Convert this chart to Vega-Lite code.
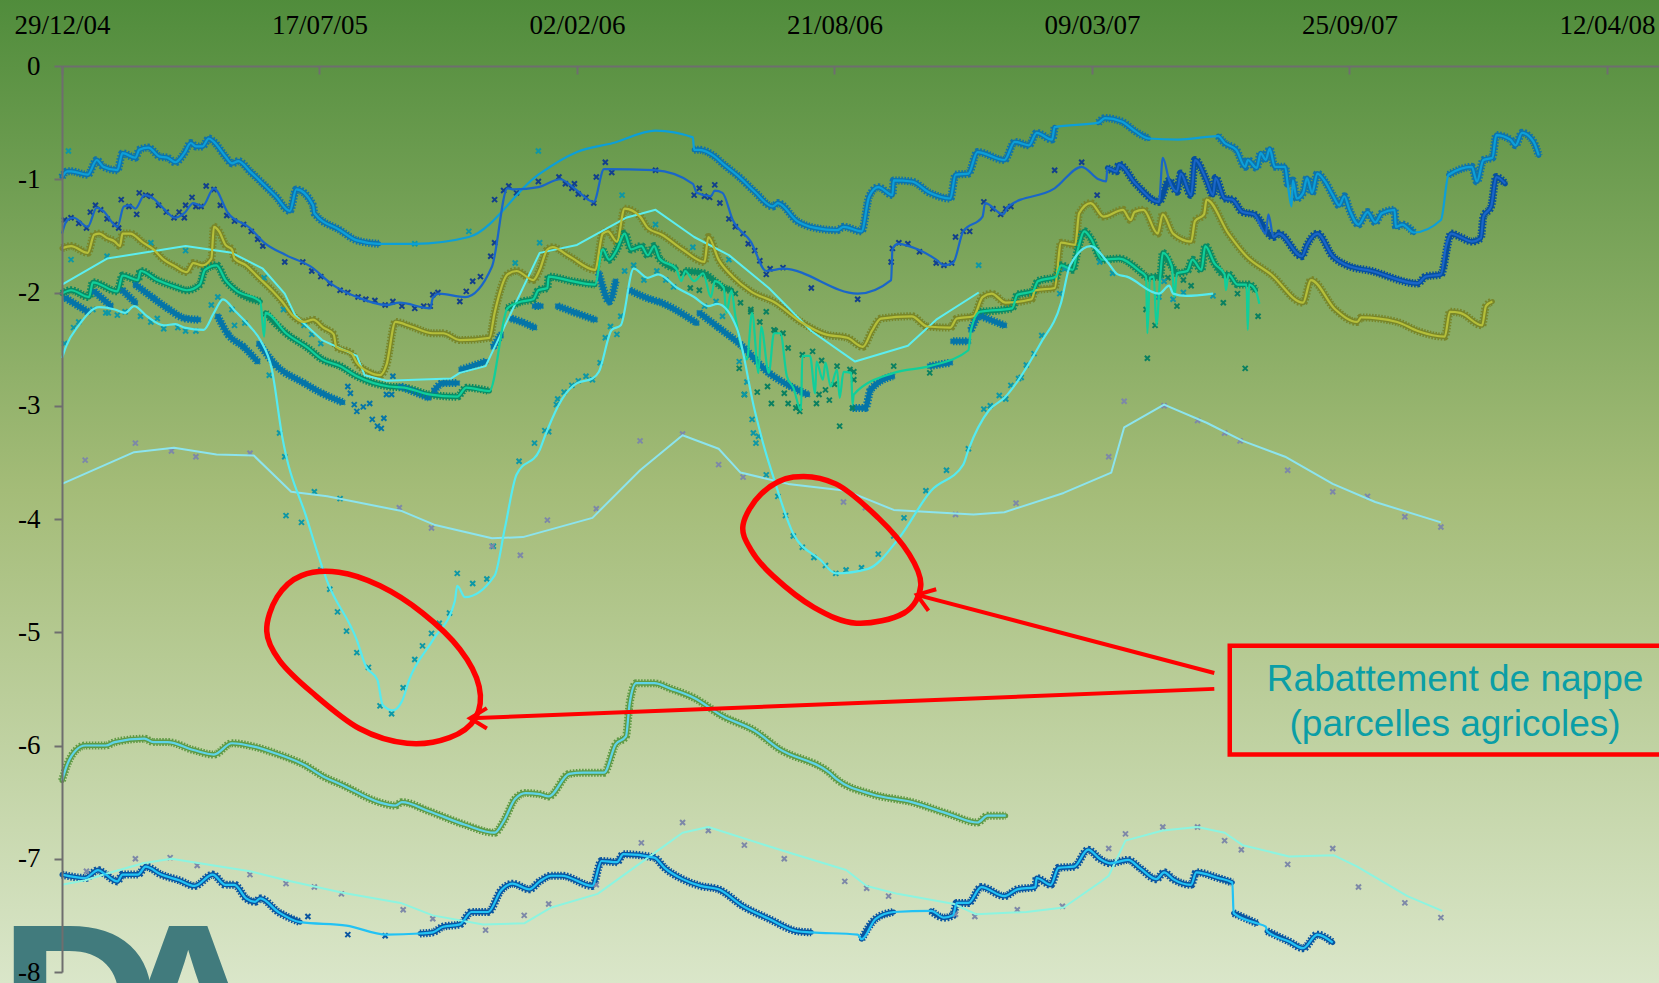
{"$schema":"https://vega.github.io/schema/vega-lite/v6.json","width":1597,"height":906,"autosize":"none","padding":{"left":62,"top":66,"right":0,"bottom":11},
"config":{"view":{"stroke":null}},
"datasets":{
"lines":[
{"s":"A","d":0,"v":-0.98,"b":1},{"s":"A","d":4,"v":-0.93,"b":1},{"s":"A","d":7,"v":-0.93,"b":1},{"s":"A","d":20,"v":-0.96,"b":1},{"s":"A","d":27,"v":-0.83,"b":1},{"s":"A","d":32,"v":-0.89,"b":1},{"s":"A","d":43,"v":-0.92,"b":1},{"s":"A","d":47,"v":-0.77,"b":1},{"s":"A","d":57,"v":-0.81,"b":1},{"s":"A","d":60,"v":-0.74,"b":1},{"s":"A","d":67,"v":-0.72,"b":1},{"s":"A","d":76,"v":-0.8,"b":1},{"s":"A","d":82,"v":-0.81,"b":1},{"s":"A","d":88,"v":-0.85,"b":1},{"s":"A","d":95,"v":-0.77,"b":1},{"s":"A","d":100,"v":-0.68,"b":1},{"s":"A","d":104,"v":-0.71,"b":1},{"s":"A","d":109,"v":-0.71,"b":1},{"s":"A","d":114,"v":-0.64,"b":1},{"s":"A","d":118,"v":-0.67,"b":1},{"s":"A","d":127,"v":-0.8,"b":1},{"s":"A","d":132,"v":-0.86,"b":1},{"s":"A","d":137,"v":-0.84,"b":1},{"s":"A","d":146,"v":-0.93,"b":1},{"s":"A","d":157,"v":-1.05,"b":1},{"s":"A","d":166,"v":-1.15,"b":1},{"s":"A","d":177,"v":-1.28,"b":1},{"s":"A","d":182,"v":-1.09,"b":1},{"s":"A","d":195,"v":-1.23,"b":1},{"s":"A","d":196,"v":-1.3,"b":1},{"s":"A","d":216,"v":-1.45,"b":1},{"s":"A","d":229,"v":-1.54,"b":1},{"s":"A","d":246,"v":-1.57,"b":1},{"s":"A","d":274,"v":-1.57,"b":0},{"s":"A","d":316,"v":-1.51,"b":0},{"s":"A","d":370,"v":-0.96,"b":0},{"s":"A","d":400,"v":-0.76,"b":0},{"s":"A","d":428,"v":-0.68,"b":0},{"s":"A","d":461,"v":-0.57,"b":0},{"s":"A","d":490,"v":-0.63,"b":0},{"s":"A","d":491,"v":-0.74,"b":2},{"s":"A","d":495,"v":-0.74,"b":2},{"s":"A","d":507,"v":-0.8,"b":2},{"s":"A","d":513,"v":-0.86,"b":2},{"s":"A","d":527,"v":-0.99,"b":2},{"s":"A","d":538,"v":-1.11,"b":2},{"s":"A","d":552,"v":-1.24,"b":2},{"s":"A","d":556,"v":-1.21,"b":2},{"s":"A","d":571,"v":-1.37,"b":2},{"s":"A","d":585,"v":-1.43,"b":2},{"s":"A","d":602,"v":-1.45,"b":2},{"s":"A","d":607,"v":-1.42,"b":2},{"s":"A","d":621,"v":-1.46,"b":2},{"s":"A","d":627,"v":-1.15,"b":2},{"s":"A","d":634,"v":-1.07,"b":2},{"s":"A","d":645,"v":-1.14,"b":2},{"s":"A","d":646,"v":-1.01,"b":2},{"s":"A","d":660,"v":-1.02,"b":2},{"s":"A","d":674,"v":-1.12,"b":2},{"s":"A","d":690,"v":-1.17,"b":2},{"s":"A","d":694,"v":-0.96,"b":2},{"s":"A","d":704,"v":-0.95,"b":2},{"s":"A","d":711,"v":-0.76,"b":2},{"s":"A","d":732,"v":-0.83,"b":2},{"s":"A","d":740,"v":-0.67,"b":2},{"s":"A","d":751,"v":-0.7,"b":2},{"s":"A","d":757,"v":-0.59,"b":2},{"s":"A","d":769,"v":-0.65,"b":2},{"s":"A","d":771,"v":-0.54,"b":2},{"s":"A","d":805,"v":-0.5,"b":3},{"s":"A","d":810,"v":-0.46,"b":3},{"s":"A","d":823,"v":-0.49,"b":3},{"s":"A","d":834,"v":-0.58,"b":3},{"s":"A","d":844,"v":-0.64,"b":3},{"s":"A","d":867,"v":-0.65,"b":0},{"s":"A","d":898,"v":-0.62,"b":4},{"s":"A","d":903,"v":-0.68,"b":4},{"s":"A","d":912,"v":-0.74,"b":4},{"s":"A","d":919,"v":-0.89,"b":4},{"s":"A","d":921,"v":-0.83,"b":4},{"s":"A","d":928,"v":-0.9,"b":4},{"s":"A","d":931,"v":-0.77,"b":4},{"s":"A","d":935,"v":-0.83,"b":4},{"s":"A","d":938,"v":-0.73,"b":4},{"s":"A","d":942,"v":-0.89,"b":4},{"s":"A","d":950,"v":-0.89,"b":4},{"s":"A","d":952,"v":-1.04,"b":4},{"s":"A","d":955,"v":-1.24,"b":0},{"s":"A","d":956,"v":-1.01,"b":4},{"s":"A","d":959,"v":-1.17,"b":4},{"s":"A","d":964,"v":-1.12,"b":4},{"s":"A","d":967,"v":-0.99,"b":4},{"s":"A","d":971,"v":-1.12,"b":4},{"s":"A","d":975,"v":-0.95,"b":4},{"s":"A","d":981,"v":-1.02,"b":4},{"s":"A","d":987,"v":-1.14,"b":4},{"s":"A","d":992,"v":-1.23,"b":4},{"s":"A","d":996,"v":-1.15,"b":4},{"s":"A","d":1000,"v":-1.27,"b":4},{"s":"A","d":1007,"v":-1.4,"b":4},{"s":"A","d":1014,"v":-1.29,"b":4},{"s":"A","d":1020,"v":-1.38,"b":4},{"s":"A","d":1025,"v":-1.3,"b":4},{"s":"A","d":1035,"v":-1.27,"b":4},{"s":"A","d":1036,"v":-1.42,"b":4},{"s":"A","d":1041,"v":-1.4,"b":4},{"s":"A","d":1050,"v":-1.47,"b":4},{"s":"A","d":1071,"v":-1.36,"b":0},{"s":"A","d":1077,"v":-0.96,"b":5},{"s":"A","d":1095,"v":-0.89,"b":5},{"s":"A","d":1099,"v":-1.02,"b":5},{"s":"A","d":1104,"v":-0.83,"b":5},{"s":"A","d":1111,"v":-0.81,"b":5},{"s":"A","d":1114,"v":-0.61,"b":5},{"s":"A","d":1125,"v":-0.65,"b":5},{"s":"A","d":1129,"v":-0.7,"b":5},{"s":"A","d":1134,"v":-0.59,"b":5},{"s":"A","d":1143,"v":-0.67,"b":5},{"s":"A","d":1147,"v":-0.79,"b":5},
{"s":"B","d":0,"v":-1.48,"b":0},{"s":"B","d":4,"v":-1.36,"b":0},{"s":"B","d":9,"v":-1.34,"b":0},{"s":"B","d":20,"v":-1.42,"b":0},{"s":"B","d":27,"v":-1.25,"b":0},{"s":"B","d":32,"v":-1.28,"b":0},{"s":"B","d":43,"v":-1.42,"b":0},{"s":"B","d":48,"v":-1.24,"b":0},{"s":"B","d":53,"v":-1.23,"b":0},{"s":"B","d":57,"v":-1.26,"b":0},{"s":"B","d":64,"v":-1.14,"b":0},{"s":"B","d":71,"v":-1.17,"b":0},{"s":"B","d":79,"v":-1.26,"b":0},{"s":"B","d":88,"v":-1.34,"b":0},{"s":"B","d":95,"v":-1.3,"b":0},{"s":"B","d":102,"v":-1.21,"b":0},{"s":"B","d":109,"v":-1.24,"b":0},{"s":"B","d":118,"v":-1.08,"b":0},{"s":"B","d":129,"v":-1.3,"b":0},{"s":"B","d":146,"v":-1.43,"b":0},{"s":"B","d":157,"v":-1.56,"b":0},{"s":"B","d":174,"v":-1.67,"b":0},{"s":"B","d":193,"v":-1.77,"b":0},{"s":"B","d":210,"v":-1.93,"b":0},{"s":"B","d":229,"v":-2.04,"b":0},{"s":"B","d":252,"v":-2.11,"b":0},{"s":"B","d":262,"v":-2.09,"b":0},{"s":"B","d":286,"v":-2.14,"b":0},{"s":"B","d":288,"v":-2.05,"b":0},{"s":"B","d":293,"v":-2.01,"b":0},{"s":"B","d":313,"v":-2.04,"b":0},{"s":"B","d":334,"v":-1.77,"b":0},{"s":"B","d":346,"v":-1.08,"b":0},{"s":"B","d":351,"v":-1.09,"b":0},{"s":"B","d":370,"v":-1.07,"b":0},{"s":"B","d":387,"v":-1.0,"b":0},{"s":"B","d":398,"v":-1.08,"b":0},{"s":"B","d":413,"v":-1.2,"b":0},{"s":"B","d":421,"v":-0.91,"b":0},{"s":"B","d":460,"v":-0.92,"b":0},{"s":"B","d":490,"v":-1.04,"b":0},{"s":"B","d":493,"v":-1.12,"b":0},{"s":"B","d":504,"v":-1.15,"b":0},{"s":"B","d":507,"v":-1.1,"b":0},{"s":"B","d":513,"v":-1.12,"b":0},{"s":"B","d":521,"v":-1.36,"b":0},{"s":"B","d":535,"v":-1.55,"b":0},{"s":"B","d":547,"v":-1.81,"b":0},{"s":"B","d":560,"v":-1.79,"b":0},{"s":"B","d":618,"v":-2.01,"b":0},{"s":"B","d":644,"v":-1.89,"b":0},{"s":"B","d":645,"v":-1.62,"b":0},{"s":"B","d":649,"v":-1.57,"b":0},{"s":"B","d":665,"v":-1.62,"b":0},{"s":"B","d":679,"v":-1.71,"b":0},{"s":"B","d":685,"v":-1.76,"b":0},{"s":"B","d":692,"v":-1.74,"b":0},{"s":"B","d":700,"v":-1.46,"b":0},{"s":"B","d":715,"v":-1.33,"b":0},{"s":"B","d":717,"v":-1.21,"b":0},{"s":"B","d":731,"v":-1.31,"b":0},{"s":"B","d":735,"v":-1.24,"b":0},{"s":"B","d":771,"v":-1.08,"b":0},{"s":"B","d":792,"v":-0.89,"b":0},{"s":"B","d":805,"v":-1.0,"b":0},{"s":"B","d":811,"v":-1.02,"b":0},{"s":"B","d":812,"v":-0.9,"b":1},{"s":"B","d":819,"v":-0.93,"b":1},{"s":"B","d":821,"v":-0.87,"b":1},{"s":"B","d":834,"v":-1.04,"b":1},{"s":"B","d":852,"v":-1.2,"b":1},{"s":"B","d":855,"v":-0.81,"b":0},{"s":"B","d":860,"v":-1.01,"b":1},{"s":"B","d":866,"v":-1.11,"b":1},{"s":"B","d":869,"v":-0.95,"b":1},{"s":"B","d":877,"v":-1.14,"b":1},{"s":"B","d":880,"v":-0.83,"b":1},{"s":"B","d":889,"v":-1.01,"b":1},{"s":"B","d":894,"v":-1.14,"b":1},{"s":"B","d":896,"v":-0.99,"b":1},{"s":"B","d":903,"v":-1.17,"b":1},{"s":"B","d":909,"v":-1.18,"b":1},{"s":"B","d":917,"v":-1.29,"b":1},{"s":"B","d":926,"v":-1.31,"b":1},{"s":"B","d":935,"v":-1.48,"b":0},{"s":"B","d":937,"v":-1.31,"b":0},{"s":"B","d":941,"v":-1.51,"b":1},{"s":"B","d":945,"v":-1.48,"b":1},{"s":"B","d":963,"v":-1.68,"b":1},{"s":"B","d":967,"v":-1.58,"b":1},{"s":"B","d":975,"v":-1.48,"b":1},{"s":"B","d":987,"v":-1.68,"b":1},{"s":"B","d":998,"v":-1.76,"b":1},{"s":"B","d":1017,"v":-1.81,"b":1},{"s":"B","d":1053,"v":-1.92,"b":1},{"s":"B","d":1059,"v":-1.86,"b":1},{"s":"B","d":1071,"v":-1.84,"b":1},{"s":"B","d":1075,"v":-1.59,"b":0},{"s":"B","d":1079,"v":-1.48,"b":1},{"s":"B","d":1086,"v":-1.51,"b":1},{"s":"B","d":1095,"v":-1.55,"b":1},{"s":"B","d":1102,"v":-1.52,"b":1},{"s":"B","d":1104,"v":-1.33,"b":1},{"s":"B","d":1110,"v":-1.24,"b":1},{"s":"B","d":1114,"v":-0.98,"b":1},{"s":"B","d":1121,"v":-1.04,"b":1},
{"s":"C","d":0,"v":-1.61,"b":1},{"s":"C","d":7,"v":-1.59,"b":1},{"s":"C","d":20,"v":-1.65,"b":1},{"s":"C","d":25,"v":-1.49,"b":1},{"s":"C","d":29,"v":-1.48,"b":1},{"s":"C","d":35,"v":-1.52,"b":1},{"s":"C","d":41,"v":-1.55,"b":1},{"s":"C","d":45,"v":-1.59,"b":1},{"s":"C","d":47,"v":-1.48,"b":1},{"s":"C","d":53,"v":-1.48,"b":1},{"s":"C","d":63,"v":-1.56,"b":1},{"s":"C","d":71,"v":-1.62,"b":1},{"s":"C","d":79,"v":-1.71,"b":1},{"s":"C","d":88,"v":-1.77,"b":1},{"s":"C","d":97,"v":-1.82,"b":1},{"s":"C","d":102,"v":-1.74,"b":1},{"s":"C","d":109,"v":-1.76,"b":1},{"s":"C","d":116,"v":-1.7,"b":1},{"s":"C","d":118,"v":-1.42,"b":1},{"s":"C","d":122,"v":-1.46,"b":1},{"s":"C","d":127,"v":-1.58,"b":1},{"s":"C","d":132,"v":-1.62,"b":1},{"s":"C","d":134,"v":-1.7,"b":1},{"s":"C","d":143,"v":-1.76,"b":1},{"s":"C","d":152,"v":-1.86,"b":1},{"s":"C","d":163,"v":-1.98,"b":1},{"s":"C","d":171,"v":-2.08,"b":1},{"s":"C","d":179,"v":-2.2,"b":1},{"s":"C","d":188,"v":-2.26,"b":1},{"s":"C","d":195,"v":-2.24,"b":1},{"s":"C","d":203,"v":-2.31,"b":1},{"s":"C","d":211,"v":-2.37,"b":1},{"s":"C","d":213,"v":-2.48,"b":1},{"s":"C","d":225,"v":-2.54,"b":1},{"s":"C","d":229,"v":-2.62,"b":1},{"s":"C","d":238,"v":-2.7,"b":1},{"s":"C","d":247,"v":-2.73,"b":1},{"s":"C","d":252,"v":-2.64,"b":1},{"s":"C","d":259,"v":-2.26,"b":1},{"s":"C","d":271,"v":-2.3,"b":1},{"s":"C","d":288,"v":-2.36,"b":1},{"s":"C","d":296,"v":-2.36,"b":1},{"s":"C","d":309,"v":-2.42,"b":1},{"s":"C","d":332,"v":-2.4,"b":1},{"s":"C","d":336,"v":-2.18,"b":1},{"s":"C","d":346,"v":-1.84,"b":1},{"s":"C","d":353,"v":-1.81,"b":1},{"s":"C","d":366,"v":-1.89,"b":1},{"s":"C","d":371,"v":-1.8,"b":1},{"s":"C","d":377,"v":-1.62,"b":1},{"s":"C","d":381,"v":-1.6,"b":1},{"s":"C","d":394,"v":-1.68,"b":1},{"s":"C","d":414,"v":-1.8,"b":1},{"s":"C","d":420,"v":-1.48,"b":1},{"s":"C","d":424,"v":-1.46,"b":1},{"s":"C","d":431,"v":-1.55,"b":1},{"s":"C","d":437,"v":-1.26,"b":1},{"s":"C","d":449,"v":-1.33,"b":1},{"s":"C","d":455,"v":-1.43,"b":1},{"s":"C","d":466,"v":-1.49,"b":1},{"s":"C","d":482,"v":-1.62,"b":1},{"s":"C","d":499,"v":-1.73,"b":1},{"s":"C","d":502,"v":-1.51,"b":1},{"s":"C","d":510,"v":-1.71,"b":1},{"s":"C","d":521,"v":-1.86,"b":1},{"s":"C","d":535,"v":-1.99,"b":1},{"s":"C","d":554,"v":-2.09,"b":1},{"s":"C","d":574,"v":-2.26,"b":1},{"s":"C","d":593,"v":-2.37,"b":1},{"s":"C","d":610,"v":-2.4,"b":1},{"s":"C","d":622,"v":-2.48,"b":1},{"s":"C","d":629,"v":-2.34,"b":1},{"s":"C","d":636,"v":-2.23,"b":1},{"s":"C","d":660,"v":-2.21,"b":1},{"s":"C","d":672,"v":-2.3,"b":1},{"s":"C","d":690,"v":-2.31,"b":1},{"s":"C","d":695,"v":-2.23,"b":1},{"s":"C","d":708,"v":-2.21,"b":1},{"s":"C","d":715,"v":-2.04,"b":1},{"s":"C","d":722,"v":-2.01,"b":1},{"s":"C","d":733,"v":-2.09,"b":1},{"s":"C","d":753,"v":-2.06,"b":1},{"s":"C","d":756,"v":-1.98,"b":1},{"s":"C","d":771,"v":-1.96,"b":1},{"s":"C","d":776,"v":-1.56,"b":1},{"s":"C","d":787,"v":-1.58,"b":1},{"s":"C","d":790,"v":-1.3,"b":1},{"s":"C","d":799,"v":-1.21,"b":1},{"s":"C","d":809,"v":-1.33,"b":1},{"s":"C","d":824,"v":-1.27,"b":1},{"s":"C","d":830,"v":-1.36,"b":1},{"s":"C","d":833,"v":-1.29,"b":1},{"s":"C","d":840,"v":-1.27,"b":1},{"s":"C","d":851,"v":-1.48,"b":1},{"s":"C","d":855,"v":-1.31,"b":1},{"s":"C","d":863,"v":-1.48,"b":1},{"s":"C","d":877,"v":-1.55,"b":1},{"s":"C","d":880,"v":-1.37,"b":1},{"s":"C","d":887,"v":-1.31,"b":1},{"s":"C","d":889,"v":-1.18,"b":1},{"s":"C","d":906,"v":-1.48,"b":1},{"s":"C","d":920,"v":-1.68,"b":1},{"s":"C","d":939,"v":-1.84,"b":1},{"s":"C","d":964,"v":-2.09,"b":1},{"s":"C","d":970,"v":-1.89,"b":1},{"s":"C","d":989,"v":-2.15,"b":1},{"s":"C","d":1006,"v":-2.26,"b":1},{"s":"C","d":1009,"v":-2.22,"b":1},{"s":"C","d":1037,"v":-2.26,"b":1},{"s":"C","d":1053,"v":-2.34,"b":1},{"s":"C","d":1074,"v":-2.39,"b":1},{"s":"C","d":1078,"v":-2.17,"b":1},{"s":"C","d":1086,"v":-2.18,"b":1},{"s":"C","d":1103,"v":-2.29,"b":1},{"s":"C","d":1106,"v":-2.12,"b":1},{"s":"C","d":1111,"v":-2.08,"b":1},
{"s":"D","d":0,"v":-2.01,"b":1},{"s":"D","d":7,"v":-1.98,"b":1},{"s":"D","d":21,"v":-2.04,"b":1},{"s":"D","d":24,"v":-1.91,"b":1},{"s":"D","d":43,"v":-1.99,"b":1},{"s":"D","d":47,"v":-1.85,"b":1},{"s":"D","d":59,"v":-1.89,"b":1},{"s":"D","d":61,"v":-1.81,"b":1},{"s":"D","d":74,"v":-1.89,"b":1},{"s":"D","d":88,"v":-1.95,"b":1},{"s":"D","d":97,"v":-1.98,"b":1},{"s":"D","d":107,"v":-1.93,"b":1},{"s":"D","d":111,"v":-1.8,"b":1},{"s":"D","d":120,"v":-1.76,"b":1},{"s":"D","d":127,"v":-1.89,"b":1},{"s":"D","d":135,"v":-1.98,"b":1},{"s":"D","d":154,"v":-2.08,"b":1},{"s":"D","d":157,"v":-2.39,"b":0},{"s":"D","d":158,"v":-2.18,"b":2},{"s":"D","d":174,"v":-2.36,"b":2},{"s":"D","d":191,"v":-2.49,"b":2},{"s":"D","d":202,"v":-2.59,"b":2},{"s":"D","d":216,"v":-2.65,"b":2},{"s":"D","d":229,"v":-2.74,"b":2},{"s":"D","d":254,"v":-2.83,"b":2},{"s":"D","d":266,"v":-2.84,"b":2},{"s":"D","d":285,"v":-2.9,"b":2},{"s":"D","d":307,"v":-2.92,"b":2},{"s":"D","d":314,"v":-2.84,"b":2},{"s":"D","d":332,"v":-2.87,"b":2},{"s":"D","d":346,"v":-2.14,"b":3},{"s":"D","d":357,"v":-2.08,"b":3},{"s":"D","d":366,"v":-2.06,"b":3},{"s":"D","d":370,"v":-1.98,"b":3},{"s":"D","d":377,"v":-1.96,"b":3},{"s":"D","d":378,"v":-1.86,"b":3},{"s":"D","d":396,"v":-1.9,"b":3},{"s":"D","d":414,"v":-1.93,"b":3},{"s":"D","d":420,"v":-1.62,"b":4},{"s":"D","d":425,"v":-1.71,"b":4},{"s":"D","d":431,"v":-1.62,"b":4},{"s":"D","d":437,"v":-1.48,"b":4},{"s":"D","d":442,"v":-1.62,"b":4},{"s":"D","d":450,"v":-1.59,"b":4},{"s":"D","d":455,"v":-1.67,"b":4},{"s":"D","d":460,"v":-1.59,"b":4},{"s":"D","d":464,"v":-1.7,"b":4},{"s":"D","d":477,"v":-1.79,"b":4},{"s":"D","d":481,"v":-1.9,"b":0},{"s":"D","d":484,"v":-1.81,"b":5},{"s":"D","d":491,"v":-1.9,"b":0},{"s":"D","d":498,"v":-1.83,"b":5},{"s":"D","d":504,"v":-2.04,"b":0},{"s":"D","d":507,"v":-1.9,"b":5},{"s":"D","d":514,"v":-1.96,"b":5},{"s":"D","d":516,"v":-2.18,"b":0},{"s":"D","d":520,"v":-1.98,"b":5},{"s":"D","d":523,"v":-2.21,"b":0},{"s":"D","d":532,"v":-2.59,"b":0},{"s":"D","d":536,"v":-2.18,"b":0},{"s":"D","d":541,"v":-2.71,"b":0},{"s":"D","d":543,"v":-2.3,"b":0},{"s":"D","d":549,"v":-2.71,"b":0},{"s":"D","d":553,"v":-2.36,"b":0},{"s":"D","d":558,"v":-2.36,"b":0},{"s":"D","d":563,"v":-2.74,"b":0},{"s":"D","d":568,"v":-2.84,"b":0},{"s":"D","d":574,"v":-3.04,"b":0},{"s":"D","d":575,"v":-2.56,"b":0},{"s":"D","d":581,"v":-2.56,"b":0},{"s":"D","d":585,"v":-2.89,"b":0},{"s":"D","d":586,"v":-2.61,"b":0},{"s":"D","d":591,"v":-2.77,"b":0},{"s":"D","d":593,"v":-2.62,"b":0},{"s":"D","d":597,"v":-2.83,"b":0},{"s":"D","d":602,"v":-2.68,"b":0},{"s":"D","d":604,"v":-2.93,"b":0},{"s":"D","d":607,"v":-2.7,"b":0},{"s":"D","d":613,"v":-2.71,"b":0},{"s":"D","d":614,"v":-2.99,"b":0},{"s":"D","d":615,"v":-2.9,"b":0},{"s":"D","d":646,"v":-2.71,"b":0},{"s":"D","d":674,"v":-2.65,"b":0},{"s":"D","d":704,"v":-2.51,"b":0},{"s":"D","d":706,"v":-2.33,"b":0},{"s":"D","d":713,"v":-2.17,"b":6},{"s":"D","d":738,"v":-2.14,"b":6},{"s":"D","d":742,"v":-2.02,"b":6},{"s":"D","d":754,"v":-1.99,"b":6},{"s":"D","d":758,"v":-1.9,"b":6},{"s":"D","d":772,"v":-1.86,"b":6},{"s":"D","d":776,"v":-1.76,"b":6},{"s":"D","d":785,"v":-1.8,"b":6},{"s":"D","d":789,"v":-1.62,"b":6},{"s":"D","d":794,"v":-1.46,"b":6},{"s":"D","d":799,"v":-1.52,"b":6},{"s":"D","d":808,"v":-1.71,"b":6},{"s":"D","d":821,"v":-1.7,"b":6},{"s":"D","d":837,"v":-1.81,"b":6},{"s":"D","d":842,"v":-1.86,"b":6},{"s":"D","d":843,"v":-2.36,"b":0},{"s":"D","d":845,"v":-1.87,"b":6},{"s":"D","d":848,"v":-1.86,"b":6},{"s":"D","d":850,"v":-2.29,"b":0},{"s":"D","d":853,"v":-1.86,"b":6},{"s":"D","d":855,"v":-1.65,"b":6},{"s":"D","d":862,"v":-1.77,"b":6},{"s":"D","d":864,"v":-2.04,"b":0},{"s":"D","d":866,"v":-1.83,"b":6},{"s":"D","d":874,"v":-1.81,"b":6},{"s":"D","d":878,"v":-1.71,"b":6},{"s":"D","d":885,"v":-1.8,"b":6},{"s":"D","d":888,"v":-1.59,"b":6},{"s":"D","d":895,"v":-1.74,"b":6},{"s":"D","d":903,"v":-1.84,"b":6},{"s":"D","d":904,"v":-1.98,"b":0},{"s":"D","d":906,"v":-1.84,"b":6},{"s":"D","d":913,"v":-1.93,"b":6},{"s":"D","d":920,"v":-1.93,"b":6},{"s":"D","d":921,"v":-2.33,"b":0},{"s":"D","d":922,"v":-1.93,"b":6},{"s":"D","d":927,"v":-1.98,"b":6},{"s":"D","d":930,"v":-2.1,"b":0},
{"s":"E","d":0,"v":-1.93,"b":0},{"s":"E","d":35,"v":-1.7,"b":0},{"s":"E","d":96,"v":-1.59,"b":0},{"s":"E","d":132,"v":-1.65,"b":0},{"s":"E","d":156,"v":-1.79,"b":0},{"s":"E","d":173,"v":-2.01,"b":0},{"s":"E","d":181,"v":-2.2,"b":0},{"s":"E","d":202,"v":-2.42,"b":0},{"s":"E","d":229,"v":-2.56,"b":0},{"s":"E","d":235,"v":-2.73,"b":0},{"s":"E","d":252,"v":-2.78,"b":0},{"s":"E","d":302,"v":-2.76,"b":0},{"s":"E","d":309,"v":-2.71,"b":0},{"s":"E","d":329,"v":-2.65,"b":0},{"s":"E","d":371,"v":-1.65,"b":0},{"s":"E","d":400,"v":-1.58,"b":0},{"s":"E","d":438,"v":-1.34,"b":0},{"s":"E","d":461,"v":-1.27,"b":0},{"s":"E","d":491,"v":-1.51,"b":0},{"s":"E","d":518,"v":-1.67,"b":0},{"s":"E","d":549,"v":-1.96,"b":0},{"s":"E","d":582,"v":-2.34,"b":0},{"s":"E","d":616,"v":-2.61,"b":0},{"s":"E","d":657,"v":-2.47,"b":0},{"s":"E","d":679,"v":-2.24,"b":0},{"s":"E","d":712,"v":-2.0,"b":0},
{"s":"K","d":3,"v":-2.05,"b":1},{"s":"K","d":20,"v":-2.17,"b":1},{"s":"K","d":25,"v":-1.99,"b":2},{"s":"K","d":38,"v":-2.12,"b":2},{"s":"K","d":47,"v":-1.98,"b":3},{"s":"K","d":57,"v":-2.09,"b":3},{"s":"K","d":57,"v":-1.93,"b":4},{"s":"K","d":71,"v":-2.05,"b":4},{"s":"K","d":82,"v":-2.14,"b":4},{"s":"K","d":96,"v":-2.23,"b":4},{"s":"K","d":106,"v":-2.24,"b":4},{"s":"K","d":121,"v":-2.21,"b":5},{"s":"K","d":129,"v":-2.37,"b":5},{"s":"K","d":141,"v":-2.48,"b":5},{"s":"K","d":152,"v":-2.61,"b":5},{"s":"K","d":153,"v":-2.45,"b":6},{"s":"K","d":166,"v":-2.64,"b":6},{"s":"K","d":188,"v":-2.8,"b":6},{"s":"K","d":202,"v":-2.89,"b":6},{"s":"K","d":218,"v":-2.97,"b":6},{"s":"K","d":263,"v":-2.83,"b":7},{"s":"K","d":285,"v":-2.93,"b":7},{"s":"K","d":289,"v":-2.87,"b":8},{"s":"K","d":296,"v":-2.8,"b":8},{"s":"K","d":307,"v":-2.8,"b":8},{"s":"K","d":310,"v":-2.68,"b":9},{"s":"K","d":329,"v":-2.61,"b":9},{"s":"K","d":335,"v":-2.48,"b":10},{"s":"K","d":341,"v":-2.37,"b":10},{"s":"K","d":349,"v":-2.23,"b":11},{"s":"K","d":357,"v":-2.26,"b":11},{"s":"K","d":367,"v":-2.31,"b":11},{"s":"K","d":367,"v":-2.12,"b":12},{"s":"K","d":372,"v":-2.12,"b":12},{"s":"K","d":385,"v":-2.12,"b":13},{"s":"K","d":399,"v":-2.18,"b":13},{"s":"K","d":414,"v":-2.24,"b":13},{"s":"K","d":417,"v":-1.83,"b":14},{"s":"K","d":420,"v":-1.95,"b":14},{"s":"K","d":425,"v":-2.08,"b":14},{"s":"K","d":430,"v":-1.9,"b":14},{"s":"K","d":441,"v":-1.98,"b":15},{"s":"K","d":457,"v":-2.06,"b":15},{"s":"K","d":463,"v":-2.08,"b":15},{"s":"K","d":493,"v":-2.27,"b":15},{"s":"K","d":495,"v":-2.18,"b":16},{"s":"K","d":510,"v":-2.31,"b":16},{"s":"K","d":527,"v":-2.46,"b":16},{"s":"K","d":549,"v":-2.71,"b":16},{"s":"K","d":566,"v":-2.83,"b":16},{"s":"K","d":579,"v":-2.9,"b":16},{"s":"K","d":614,"v":-3.02,"b":17},{"s":"K","d":624,"v":-3.02,"b":17},{"s":"K","d":628,"v":-2.86,"b":17},{"s":"K","d":645,"v":-2.74,"b":17},{"s":"K","d":674,"v":-2.65,"b":18},{"s":"K","d":690,"v":-2.62,"b":18},{"s":"K","d":692,"v":-2.43,"b":19},{"s":"K","d":704,"v":-2.43,"b":19},{"s":"K","d":706,"v":-2.33,"b":20},{"s":"K","d":711,"v":-2.21,"b":20},{"s":"K","d":714,"v":-2.21,"b":21},{"s":"K","d":732,"v":-2.29,"b":21},
{"s":"F","d":0,"v":-2.58,"b":0},{"s":"F","d":3,"v":-2.48,"b":0},{"s":"F","d":13,"v":-2.29,"b":0},{"s":"F","d":29,"v":-2.13,"b":0},{"s":"F","d":41,"v":-2.15,"b":0},{"s":"F","d":49,"v":-2.18,"b":0},{"s":"F","d":56,"v":-2.12,"b":0},{"s":"F","d":66,"v":-2.21,"b":0},{"s":"F","d":79,"v":-2.29,"b":0},{"s":"F","d":88,"v":-2.28,"b":0},{"s":"F","d":95,"v":-2.31,"b":0},{"s":"F","d":110,"v":-2.33,"b":0},{"s":"F","d":118,"v":-2.18,"b":0},{"s":"F","d":125,"v":-2.06,"b":0},{"s":"F","d":135,"v":-2.17,"b":0},{"s":"F","d":146,"v":-2.3,"b":0},{"s":"F","d":154,"v":-2.42,"b":0},{"s":"F","d":163,"v":-2.68,"b":0},{"s":"F","d":171,"v":-3.27,"b":0},{"s":"F","d":190,"v":-3.99,"b":0},{"s":"F","d":206,"v":-4.55,"b":0},{"s":"F","d":229,"v":-5.07,"b":0},{"s":"F","d":236,"v":-5.3,"b":0},{"s":"F","d":245,"v":-5.42,"b":0},{"s":"F","d":249,"v":-5.64,"b":0},{"s":"F","d":257,"v":-5.69,"b":0},{"s":"F","d":264,"v":-5.61,"b":0},{"s":"F","d":270,"v":-5.41,"b":0},{"s":"F","d":288,"v":-5.07,"b":0},{"s":"F","d":305,"v":-4.73,"b":0},{"s":"F","d":307,"v":-4.59,"b":0},{"s":"F","d":313,"v":-4.69,"b":0},{"s":"F","d":336,"v":-4.5,"b":0},{"s":"F","d":344,"v":-4.08,"b":0},{"s":"F","d":353,"v":-3.61,"b":0},{"s":"F","d":371,"v":-3.39,"b":0},{"s":"F","d":375,"v":-3.27,"b":0},{"s":"F","d":389,"v":-2.93,"b":0},{"s":"F","d":400,"v":-2.8,"b":0},{"s":"F","d":412,"v":-2.76,"b":0},{"s":"F","d":417,"v":-2.7,"b":0},{"s":"F","d":427,"v":-2.33,"b":0},{"s":"F","d":434,"v":-2.29,"b":0},{"s":"F","d":444,"v":-1.79,"b":0},{"s":"F","d":455,"v":-1.87,"b":0},{"s":"F","d":463,"v":-1.84,"b":0},{"s":"F","d":478,"v":-1.96,"b":0},{"s":"F","d":491,"v":-2.04,"b":0},{"s":"F","d":502,"v":-2.12,"b":0},{"s":"F","d":509,"v":-2.1,"b":0},{"s":"F","d":524,"v":-2.31,"b":0},{"s":"F","d":538,"v":-3.04,"b":0},{"s":"F","d":546,"v":-3.39,"b":0},{"s":"F","d":552,"v":-3.61,"b":0},{"s":"F","d":568,"v":-4.13,"b":0},{"s":"F","d":589,"v":-4.36,"b":0},{"s":"F","d":601,"v":-4.48,"b":0},{"s":"F","d":626,"v":-4.44,"b":0},{"s":"F","d":650,"v":-4.17,"b":0},{"s":"F","d":675,"v":-3.75,"b":0},{"s":"F","d":700,"v":-3.52,"b":0},{"s":"F","d":704,"v":-3.39,"b":0},{"s":"F","d":720,"v":-3.04,"b":0},{"s":"F","d":732,"v":-2.93,"b":0},{"s":"F","d":760,"v":-2.45,"b":0},{"s":"F","d":776,"v":-2.09,"b":0},{"s":"F","d":783,"v":-1.76,"b":0},{"s":"F","d":799,"v":-1.59,"b":0},{"s":"F","d":812,"v":-1.73,"b":0},{"s":"F","d":820,"v":-1.84,"b":0},{"s":"F","d":827,"v":-1.86,"b":0},{"s":"F","d":852,"v":-2.01,"b":0},{"s":"F","d":860,"v":-1.94,"b":0},{"s":"F","d":863,"v":-2.01,"b":0},{"s":"F","d":873,"v":-2.03,"b":0},{"s":"F","d":894,"v":-2.01,"b":0},
{"s":"G","d":0,"v":-3.69,"b":0},{"s":"G","d":56,"v":-3.41,"b":0},{"s":"G","d":87,"v":-3.37,"b":0},{"s":"G","d":120,"v":-3.43,"b":0},{"s":"G","d":149,"v":-3.44,"b":0},{"s":"G","d":178,"v":-3.76,"b":0},{"s":"G","d":206,"v":-3.8,"b":0},{"s":"G","d":264,"v":-3.93,"b":0},{"s":"G","d":289,"v":-4.05,"b":0},{"s":"G","d":334,"v":-4.17,"b":0},{"s":"G","d":358,"v":-4.16,"b":0},{"s":"G","d":412,"v":-3.99,"b":0},{"s":"G","d":449,"v":-3.57,"b":0},{"s":"G","d":482,"v":-3.26,"b":0},{"s":"G","d":510,"v":-3.38,"b":0},{"s":"G","d":527,"v":-3.59,"b":0},{"s":"G","d":564,"v":-3.69,"b":0},{"s":"G","d":609,"v":-3.75,"b":0},{"s":"G","d":646,"v":-3.92,"b":0},{"s":"G","d":708,"v":-3.96,"b":0},{"s":"G","d":732,"v":-3.94,"b":0},{"s":"G","d":778,"v":-3.77,"b":0},{"s":"G","d":815,"v":-3.59,"b":0},{"s":"G","d":825,"v":-3.19,"b":0},{"s":"G","d":856,"v":-2.99,"b":0},{"s":"G","d":889,"v":-3.15,"b":0},{"s":"G","d":917,"v":-3.31,"b":0},{"s":"G","d":950,"v":-3.45,"b":0},{"s":"G","d":987,"v":-3.69,"b":0},{"s":"G","d":1020,"v":-3.85,"b":0},{"s":"G","d":1071,"v":-4.03,"b":0},
{"s":"H","d":0,"v":-6.31,"b":1},{"s":"H","d":4,"v":-6.17,"b":1},{"s":"H","d":11,"v":-6.04,"b":1},{"s":"H","d":18,"v":-6.0,"b":1},{"s":"H","d":34,"v":-6.0,"b":1},{"s":"H","d":41,"v":-5.97,"b":1},{"s":"H","d":64,"v":-5.94,"b":1},{"s":"H","d":71,"v":-5.97,"b":1},{"s":"H","d":82,"v":-5.97,"b":1},{"s":"H","d":102,"v":-6.04,"b":1},{"s":"H","d":118,"v":-6.08,"b":1},{"s":"H","d":132,"v":-5.98,"b":1},{"s":"H","d":149,"v":-6.01,"b":1},{"s":"H","d":166,"v":-6.07,"b":1},{"s":"H","d":188,"v":-6.17,"b":1},{"s":"H","d":204,"v":-6.28,"b":1},{"s":"H","d":218,"v":-6.35,"b":1},{"s":"H","d":246,"v":-6.5,"b":1},{"s":"H","d":259,"v":-6.53,"b":1},{"s":"H","d":264,"v":-6.5,"b":1},{"s":"H","d":285,"v":-6.58,"b":1},{"s":"H","d":313,"v":-6.7,"b":1},{"s":"H","d":336,"v":-6.77,"b":1},{"s":"H","d":343,"v":-6.67,"b":1},{"s":"H","d":352,"v":-6.47,"b":1},{"s":"H","d":360,"v":-6.42,"b":1},{"s":"H","d":371,"v":-6.43,"b":1},{"s":"H","d":378,"v":-6.45,"b":1},{"s":"H","d":394,"v":-6.25,"b":1},{"s":"H","d":405,"v":-6.24,"b":1},{"s":"H","d":421,"v":-6.24,"b":1},{"s":"H","d":430,"v":-5.99,"b":1},{"s":"H","d":438,"v":-5.92,"b":1},{"s":"H","d":441,"v":-5.62,"b":1},{"s":"H","d":446,"v":-5.45,"b":1},{"s":"H","d":460,"v":-5.45,"b":1},{"s":"H","d":473,"v":-5.5,"b":1},{"s":"H","d":491,"v":-5.58,"b":1},{"s":"H","d":513,"v":-5.74,"b":1},{"s":"H","d":538,"v":-5.87,"b":1},{"s":"H","d":557,"v":-6.03,"b":1},{"s":"H","d":596,"v":-6.24,"b":1},{"s":"H","d":602,"v":-6.3,"b":1},{"s":"H","d":629,"v":-6.43,"b":1},{"s":"H","d":660,"v":-6.5,"b":1},{"s":"H","d":690,"v":-6.61,"b":1},{"s":"H","d":711,"v":-6.68,"b":1},{"s":"H","d":719,"v":-6.62,"b":1},{"s":"H","d":733,"v":-6.62,"b":1},
{"s":"I","d":0,"v":-7.14,"b":1},{"s":"I","d":18,"v":-7.17,"b":1},{"s":"I","d":28,"v":-7.1,"b":1},{"s":"I","d":34,"v":-7.14,"b":1},{"s":"I","d":43,"v":-7.2,"b":1},{"s":"I","d":47,"v":-7.14,"b":1},{"s":"I","d":59,"v":-7.14,"b":1},{"s":"I","d":65,"v":-7.07,"b":1},{"s":"I","d":77,"v":-7.14,"b":1},{"s":"I","d":91,"v":-7.19,"b":1},{"s":"I","d":103,"v":-7.24,"b":1},{"s":"I","d":117,"v":-7.14,"b":1},{"s":"I","d":127,"v":-7.23,"b":1},{"s":"I","d":134,"v":-7.23,"b":1},{"s":"I","d":143,"v":-7.35,"b":1},{"s":"I","d":150,"v":-7.38,"b":1},{"s":"I","d":154,"v":-7.35,"b":1},{"s":"I","d":168,"v":-7.47,"b":1},{"s":"I","d":185,"v":-7.56,"b":1},{"s":"I","d":221,"v":-7.59,"b":0},{"s":"I","d":252,"v":-7.67,"b":0},{"s":"I","d":278,"v":-7.66,"b":2},{"s":"I","d":288,"v":-7.65,"b":2},{"s":"I","d":296,"v":-7.6,"b":2},{"s":"I","d":309,"v":-7.58,"b":2},{"s":"I","d":318,"v":-7.47,"b":2},{"s":"I","d":331,"v":-7.47,"b":2},{"s":"I","d":341,"v":-7.28,"b":2},{"s":"I","d":350,"v":-7.22,"b":2},{"s":"I","d":363,"v":-7.27,"b":2},{"s":"I","d":371,"v":-7.2,"b":2},{"s":"I","d":380,"v":-7.15,"b":2},{"s":"I","d":388,"v":-7.15,"b":2},{"s":"I","d":412,"v":-7.24,"b":2},{"s":"I","d":419,"v":-7.02,"b":2},{"s":"I","d":431,"v":-7.03,"b":2},{"s":"I","d":436,"v":-6.96,"b":2},{"s":"I","d":460,"v":-6.99,"b":2},{"s":"I","d":468,"v":-7.08,"b":2},{"s":"I","d":482,"v":-7.18,"b":2},{"s":"I","d":496,"v":-7.24,"b":2},{"s":"I","d":510,"v":-7.27,"b":2},{"s":"I","d":529,"v":-7.42,"b":2},{"s":"I","d":549,"v":-7.53,"b":2},{"s":"I","d":571,"v":-7.64,"b":2},{"s":"I","d":582,"v":-7.65,"b":2},{"s":"I","d":618,"v":-7.67,"b":0},{"s":"I","d":621,"v":-7.71,"b":3},{"s":"I","d":632,"v":-7.53,"b":3},{"s":"I","d":646,"v":-7.47,"b":3},{"s":"I","d":675,"v":-7.46,"b":4},{"s":"I","d":685,"v":-7.52,"b":4},{"s":"I","d":692,"v":-7.5,"b":4},{"s":"I","d":695,"v":-7.39,"b":4},{"s":"I","d":704,"v":-7.39,"b":4},{"s":"I","d":714,"v":-7.25,"b":4},{"s":"I","d":732,"v":-7.33,"b":4},{"s":"I","d":742,"v":-7.27,"b":4},{"s":"I","d":756,"v":-7.25,"b":4},{"s":"I","d":757,"v":-7.17,"b":4},{"s":"I","d":768,"v":-7.23,"b":4},{"s":"I","d":774,"v":-7.08,"b":4},{"s":"I","d":786,"v":-7.07,"b":4},{"s":"I","d":797,"v":-6.92,"b":4},{"s":"I","d":806,"v":-7.0,"b":4},{"s":"I","d":814,"v":-7.04,"b":4},{"s":"I","d":828,"v":-7.01,"b":4},{"s":"I","d":837,"v":-7.08,"b":4},{"s":"I","d":850,"v":-7.18,"b":4},{"s":"I","d":856,"v":-7.12,"b":4},{"s":"I","d":863,"v":-7.18,"b":4},{"s":"I","d":877,"v":-7.23,"b":4},{"s":"I","d":881,"v":-7.12,"b":4},{"s":"I","d":898,"v":-7.17,"b":4},{"s":"I","d":909,"v":-7.21,"b":4},{"s":"I","d":910,"v":-7.48,"b":5},{"s":"I","d":928,"v":-7.57,"b":5},{"s":"I","d":935,"v":-7.6,"b":0},{"s":"I","d":936,"v":-7.64,"b":6},{"s":"I","d":953,"v":-7.73,"b":6},{"s":"I","d":964,"v":-7.79,"b":6},{"s":"I","d":975,"v":-7.67,"b":6},{"s":"I","d":987,"v":-7.74,"b":6},
{"s":"J","d":0,"v":-7.23,"b":0},{"s":"J","d":18,"v":-7.19,"b":0},{"s":"J","d":35,"v":-7.13,"b":0},{"s":"J","d":63,"v":-7.04,"b":0},{"s":"J","d":85,"v":-7.0,"b":0},{"s":"J","d":146,"v":-7.11,"b":0},{"s":"J","d":174,"v":-7.19,"b":0},{"s":"J","d":218,"v":-7.3,"b":0},{"s":"J","d":263,"v":-7.39,"b":0},{"s":"J","d":288,"v":-7.5,"b":0},{"s":"J","d":327,"v":-7.58,"b":0},{"s":"J","d":359,"v":-7.57,"b":0},{"s":"J","d":380,"v":-7.43,"b":0},{"s":"J","d":416,"v":-7.31,"b":0},{"s":"J","d":460,"v":-6.95,"b":0},{"s":"J","d":482,"v":-6.77,"b":0},{"s":"J","d":502,"v":-6.72,"b":0},{"s":"J","d":560,"v":-6.93,"b":0},{"s":"J","d":609,"v":-7.1,"b":0},{"s":"J","d":625,"v":-7.24,"b":0},{"s":"J","d":649,"v":-7.31,"b":0},{"s":"J","d":693,"v":-7.4,"b":0},{"s":"J","d":710,"v":-7.49,"b":0},{"s":"J","d":749,"v":-7.47,"b":0},{"s":"J","d":778,"v":-7.43,"b":0},{"s":"J","d":806,"v":-7.21,"b":0},{"s":"J","d":813,"v":-7.15,"b":0},{"s":"J","d":826,"v":-6.84,"b":0},{"s":"J","d":855,"v":-6.75,"b":0},{"s":"J","d":882,"v":-6.72,"b":0},{"s":"J","d":903,"v":-6.77,"b":0},{"s":"J","d":917,"v":-6.88,"b":0},{"s":"J","d":953,"v":-6.98,"b":0},{"s":"J","d":988,"v":-6.97,"b":0},{"s":"J","d":1006,"v":-7.07,"b":0},{"s":"J","d":1045,"v":-7.33,"b":0},{"s":"J","d":1072,"v":-7.46,"b":0}
],
"pts":[
{"s":"B","d":2,"v":-1.36},{"s":"B","d":7,"v":-1.34},{"s":"B","d":13,"v":-1.39},{"s":"B","d":19,"v":-1.43},{"s":"B","d":22,"v":-1.29},{"s":"B","d":26,"v":-1.23},{"s":"B","d":30,"v":-1.27},{"s":"B","d":35,"v":-1.35},{"s":"B","d":41,"v":-1.4},{"s":"B","d":44,"v":-1.43},{"s":"B","d":46,"v":-1.18},{"s":"B","d":52,"v":-1.24},{"s":"B","d":58,"v":-1.31},{"s":"B","d":60,"v":-1.12},{"s":"B","d":65,"v":-1.14},{"s":"B","d":69,"v":-1.15},{"s":"B","d":75,"v":-1.23},{"s":"B","d":81,"v":-1.29},{"s":"B","d":87,"v":-1.34},{"s":"B","d":91,"v":-1.29},{"s":"B","d":95,"v":-1.34},{"s":"B","d":96,"v":-1.23},{"s":"B","d":101,"v":-1.16},{"s":"B","d":104,"v":-1.24},{"s":"B","d":108,"v":-1.24},{"s":"B","d":112,"v":-1.06},{"s":"B","d":118,"v":-1.09},{"s":"B","d":123,"v":-1.23},{"s":"B","d":128,"v":-1.32},{"s":"B","d":134,"v":-1.37},{"s":"B","d":141,"v":-1.4},{"s":"B","d":147,"v":-1.46},{"s":"B","d":152,"v":-1.53},{"s":"B","d":156,"v":-1.59},{"s":"B","d":173,"v":-1.73},{"s":"B","d":187,"v":-1.73},{"s":"B","d":194,"v":-1.81},{"s":"B","d":201,"v":-1.86},{"s":"B","d":208,"v":-1.92},{"s":"B","d":216,"v":-1.98},{"s":"B","d":222,"v":-2.0},{"s":"B","d":230,"v":-2.04},{"s":"B","d":236,"v":-2.06},{"s":"B","d":243,"v":-2.07},{"s":"B","d":251,"v":-2.11},{"s":"B","d":257,"v":-2.08},{"s":"B","d":264,"v":-2.12},{"s":"B","d":274,"v":-2.14},{"s":"B","d":281,"v":-2.12},{"s":"B","d":286,"v":-2.12},{"s":"B","d":288,"v":-2.02},{"s":"B","d":292,"v":-2.0},{"s":"B","d":309,"v":-2.08},{"s":"B","d":314,"v":-1.99},{"s":"B","d":319,"v":-1.9},{"s":"B","d":325,"v":-1.86},{"s":"B","d":333,"v":-1.68},{"s":"B","d":336,"v":-1.56},{"s":"B","d":336,"v":-1.18},{"s":"B","d":343,"v":-1.1},{"s":"B","d":347,"v":-1.06},{"s":"B","d":353,"v":-1.12},{"s":"B","d":370,"v":-1.02},{"s":"B","d":386,"v":-0.98},{"s":"B","d":391,"v":-1.04},{"s":"B","d":396,"v":-1.08},{"s":"B","d":398,"v":-1.04},{"s":"B","d":401,"v":-1.13},{"s":"B","d":407,"v":-1.16},{"s":"B","d":413,"v":-1.21},{"s":"B","d":415,"v":-0.98},{"s":"B","d":422,"v":-0.85},{"s":"B","d":427,"v":-0.94},{"s":"B","d":461,"v":-0.92},{"s":"B","d":491,"v":-1.14},{"s":"B","d":495,"v":-1.08},{"s":"B","d":499,"v":-1.15},{"s":"B","d":503,"v":-1.16},{"s":"B","d":507,"v":-1.05},{"s":"B","d":511,"v":-1.21},{"s":"B","d":518,"v":-1.35},{"s":"B","d":523,"v":-1.42},{"s":"B","d":529,"v":-1.48},{"s":"B","d":533,"v":-1.57},{"s":"B","d":538,"v":-1.63},{"s":"B","d":542,"v":-1.72},{"s":"B","d":547,"v":-1.84},{"s":"B","d":550,"v":-1.79},{"s":"B","d":560,"v":-1.78},{"s":"B","d":582,"v":-1.96},{"s":"B","d":618,"v":-2.06},{"s":"B","d":644,"v":-1.73},{"s":"B","d":645,"v":-1.61},{"s":"B","d":650,"v":-1.56},{"s":"B","d":657,"v":-1.57},{"s":"B","d":666,"v":-1.64},{"s":"B","d":679,"v":-1.74},{"s":"B","d":685,"v":-1.76},{"s":"B","d":691,"v":-1.74},{"s":"B","d":694,"v":-1.51},{"s":"B","d":700,"v":-1.46},{"s":"B","d":705,"v":-1.46},{"s":"B","d":716,"v":-1.2},{"s":"B","d":723,"v":-1.26},{"s":"B","d":729,"v":-1.31},{"s":"B","d":733,"v":-1.26},{"s":"B","d":737,"v":-1.24},{"s":"B","d":771,"v":-0.92},{"s":"B","d":792,"v":-0.85},{"s":"B","d":804,"v":-1.14},
{"s":"D","d":482,"v":-1.83},{"s":"D","d":488,"v":-1.96},{"s":"D","d":495,"v":-1.98},{"s":"D","d":527,"v":-2.09},{"s":"D","d":535,"v":-2.17},{"s":"D","d":547,"v":-2.17},{"s":"D","d":554,"v":-2.34},{"s":"D","d":564,"v":-2.49},{"s":"D","d":583,"v":-2.52},{"s":"D","d":615,"v":-2.7},{"s":"D","d":615,"v":-2.77},{"s":"D","d":586,"v":-2.98},{"s":"D","d":596,"v":-2.95},{"s":"D","d":572,"v":-3.01},{"s":"D","d":564,"v":-2.98},{"s":"D","d":561,"v":-2.89},{"s":"D","d":551,"v":-2.98},{"s":"D","d":548,"v":-2.83},{"s":"D","d":540,"v":-2.88},{"s":"D","d":530,"v":-2.9},{"s":"D","d":526,"v":-2.67},{"s":"D","d":604,"v":-3.18},{"s":"D","d":646,"v":-2.65},{"s":"D","d":674,"v":-2.71},{"s":"D","d":593,"v":-2.86},{"s":"D","d":588,"v":-2.9},{"s":"D","d":600,"v":-2.81},{"s":"D","d":573,"v":-3.05},{"s":"D","d":570,"v":-3.02},{"s":"D","d":843,"v":-2.58},{"s":"D","d":919,"v":-2.67},{"s":"D","d":929,"v":-2.21},{"s":"D","d":902,"v":-2.09},{"s":"D","d":913,"v":-2.01},{"s":"D","d":849,"v":-2.29},{"s":"D","d":866,"v":-2.12},{"s":"D","d":877,"v":-1.94},{"s":"D","d":842,"v":-2.15},{"s":"D","d":871,"v":-1.89},{"s":"D","d":859,"v":-1.87},{"s":"D","d":614,"v":-3.02},{"s":"D","d":523,"v":-2.01},{"s":"D","d":535,"v":-2.15},{"s":"D","d":542,"v":-2.26},{"s":"D","d":553,"v":-2.33},{"s":"D","d":560,"v":-2.36},{"s":"D","d":575,"v":-2.55},{"s":"D","d":590,"v":-2.6},{"s":"D","d":602,"v":-2.65},{"s":"D","d":612,"v":-2.68},
{"s":"K","d":222,"v":-2.83},{"s":"K","d":224,"v":-2.89},{"s":"K","d":227,"v":-2.99},{"s":"K","d":229,"v":-3.05},{"s":"K","d":234,"v":-3.01},{"s":"K","d":239,"v":-2.98},{"s":"K","d":241,"v":-3.12},{"s":"K","d":245,"v":-3.18},{"s":"K","d":250,"v":-3.11},{"s":"K","d":248,"v":-3.2},{"s":"K","d":252,"v":-2.9},{"s":"K","d":256,"v":-2.9},{"s":"K","d":257,"v":-2.74},{"s":"K","d":370,"v":-2.12},
{"s":"F","d":2,"v":-2.45},{"s":"F","d":9,"v":-2.31},{"s":"F","d":13,"v":-2.26},{"s":"F","d":24,"v":-2.15},{"s":"F","d":34,"v":-2.18},{"s":"F","d":36,"v":-2.18},{"s":"F","d":43,"v":-2.2},{"s":"F","d":49,"v":-2.17},{"s":"F","d":61,"v":-2.21},{"s":"F","d":69,"v":-2.26},{"s":"F","d":74,"v":-2.23},{"s":"F","d":79,"v":-2.32},{"s":"F","d":90,"v":-2.31},{"s":"F","d":96,"v":-2.34},{"s":"F","d":104,"v":-2.34},{"s":"F","d":116,"v":-2.11},{"s":"F","d":121,"v":-2.04},{"s":"F","d":132,"v":-2.15},{"s":"F","d":134,"v":-2.29},{"s":"F","d":142,"v":-2.27},{"s":"F","d":161,"v":-2.73},{"s":"F","d":169,"v":-3.24},{"s":"F","d":173,"v":-3.45},{"s":"F","d":174,"v":-3.97},{"s":"F","d":186,"v":-4.03},{"s":"F","d":196,"v":-3.76},{"s":"F","d":216,"v":-3.82},{"s":"F","d":201,"v":-4.45},{"s":"F","d":208,"v":-4.62},{"s":"F","d":214,"v":-4.82},{"s":"F","d":221,"v":-4.99},{"s":"F","d":229,"v":-5.18},{"s":"F","d":238,"v":-5.31},{"s":"F","d":247,"v":-5.65},{"s":"F","d":256,"v":-5.72},{"s":"F","d":265,"v":-5.49},{"s":"F","d":274,"v":-5.24},{"s":"F","d":280,"v":-5.12},{"s":"F","d":287,"v":-5.01},{"s":"F","d":293,"v":-4.92},{"s":"F","d":301,"v":-4.83},{"s":"F","d":307,"v":-4.48},{"s":"F","d":319,"v":-4.57},{"s":"F","d":330,"v":-4.53},{"s":"F","d":335,"v":-4.24},{"s":"F","d":355,"v":-3.49},{"s":"F","d":367,"v":-3.33},{"s":"F","d":375,"v":-3.22},{"s":"F","d":385,"v":-2.94},{"s":"F","d":537,"v":-3.24},{"s":"F","d":539,"v":-3.33},{"s":"F","d":547,"v":-3.61},{"s":"F","d":556,"v":-3.8},{"s":"F","d":562,"v":-3.97},{"s":"F","d":568,"v":-4.15},{"s":"F","d":575,"v":-4.25},{"s":"F","d":584,"v":-4.34},{"s":"F","d":593,"v":-4.41},{"s":"F","d":601,"v":-4.48},{"s":"F","d":609,"v":-4.45},{"s":"F","d":621,"v":-4.43},{"s":"F","d":634,"v":-4.31},{"s":"F","d":646,"v":-4.15},{"s":"F","d":654,"v":-3.99},{"s":"F","d":671,"v":-3.75},{"s":"F","d":687,"v":-3.57},{"s":"F","d":704,"v":-3.38},{"s":"F","d":716,"v":-3.03},{"s":"F","d":728,"v":-2.91},{"s":"F","d":745,"v":-2.75},{"s":"F","d":761,"v":-2.38},{"s":"F","d":775,"v":-2.01},{"s":"F","d":378,"v":-3.23},{"s":"F","d":384,"v":-2.99},{"s":"F","d":390,"v":-2.88},{"s":"F","d":396,"v":-2.82},{"s":"F","d":401,"v":-2.78},{"s":"F","d":407,"v":-2.74},{"s":"F","d":412,"v":-2.77},{"s":"F","d":418,"v":-2.62},{"s":"F","d":422,"v":-2.4},{"s":"F","d":426,"v":-2.3},{"s":"F","d":431,"v":-2.37},{"s":"F","d":434,"v":-2.21},{"s":"F","d":435,"v":-1.14},{"s":"F","d":437,"v":-1.81},{"s":"F","d":444,"v":-1.76},{"s":"F","d":452,"v":-1.89},{"s":"F","d":462,"v":-1.81},{"s":"F","d":469,"v":-1.89},{"s":"F","d":475,"v":-1.95},{"s":"F","d":490,"v":-1.6},{"s":"F","d":499,"v":-2.12},{"s":"F","d":508,"v":-2.08},{"s":"F","d":513,"v":-2.21},{"s":"F","d":518,"v":-1.71},{"s":"F","d":526,"v":-2.61},{"s":"F","d":532,"v":-2.79},{"s":"F","d":530,"v":-2.9},{"s":"F","d":536,"v":-3.12},{"s":"F","d":541,"v":-3.27},{"s":"F","d":712,"v":-1.76},{"s":"F","d":461,"v":-1.4},{"s":"F","d":721,"v":-3.0},{"s":"F","d":733,"v":-2.94},{"s":"F","d":737,"v":-2.82},{"s":"F","d":743,"v":-2.76},{"s":"F","d":749,"v":-2.64},{"s":"F","d":755,"v":-2.54},{"s":"F","d":5,"v":-0.75},{"s":"F","d":7,"v":-1.71},{"s":"F","d":35,"v":-1.68},{"s":"F","d":69,"v":-1.56},{"s":"F","d":96,"v":-1.63},{"s":"F","d":157,"v":-1.87},{"s":"F","d":172,"v":-2.15},{"s":"F","d":188,"v":-2.29},{"s":"F","d":194,"v":-2.37},{"s":"F","d":201,"v":-2.45},{"s":"F","d":316,"v":-1.46},{"s":"F","d":274,"v":-1.57},{"s":"F","d":370,"v":-0.75},{"s":"F","d":371,"v":-1.56},{"s":"F","d":352,"v":-1.74},{"s":"F","d":816,"v":-1.83},{"s":"F","d":806,"v":-1.73},{"s":"F","d":856,"v":-1.9},{"s":"F","d":863,"v":-2.06},{"s":"F","d":871,"v":-2.0},{"s":"F","d":894,"v":-2.03},{"s":"F","d":779,"v":-1.79},{"s":"F","d":852,"v":-2.04},
{"s":"G","d":18,"v":-3.48},{"s":"G","d":57,"v":-3.33},{"s":"G","d":85,"v":-3.4},{"s":"G","d":104,"v":-3.45},{"s":"G","d":146,"v":-3.42},{"s":"G","d":262,"v":-3.9},{"s":"G","d":287,"v":-4.08},{"s":"G","d":334,"v":-4.24},{"s":"G","d":356,"v":-4.32},{"s":"G","d":377,"v":-4.01},{"s":"G","d":415,"v":-3.91},{"s":"G","d":449,"v":-3.31},{"s":"G","d":482,"v":-3.25},{"s":"G","d":510,"v":-3.52},{"s":"G","d":529,"v":-3.63},{"s":"G","d":607,"v":-3.85},{"s":"G","d":624,"v":-3.9},{"s":"G","d":694,"v":-3.96},{"s":"G","d":741,"v":-3.86},{"s":"G","d":813,"v":-3.45},{"s":"G","d":825,"v":-2.96},{"s":"G","d":856,"v":-3.0},{"s":"G","d":882,"v":-3.13},{"s":"G","d":903,"v":-3.24},{"s":"G","d":915,"v":-3.31},{"s":"G","d":952,"v":-3.57},{"s":"G","d":987,"v":-3.76},{"s":"G","d":1014,"v":-3.8},{"s":"G","d":1043,"v":-3.98},{"s":"G","d":1071,"v":-4.07},
{"s":"I","d":191,"v":-7.51},{"s":"I","d":222,"v":-7.67},{"s":"I","d":251,"v":-7.68},
{"s":"J","d":19,"v":-7.11},{"s":"J","d":57,"v":-7.0},{"s":"J","d":84,"v":-6.99},{"s":"J","d":105,"v":-7.06},{"s":"J","d":146,"v":-7.14},{"s":"J","d":174,"v":-7.22},{"s":"J","d":196,"v":-7.25},{"s":"J","d":217,"v":-7.31},{"s":"J","d":265,"v":-7.45},{"s":"J","d":288,"v":-7.53},{"s":"J","d":329,"v":-7.63},{"s":"J","d":359,"v":-7.5},{"s":"J","d":378,"v":-7.4},{"s":"J","d":415,"v":-7.23},{"s":"J","d":450,"v":-6.86},{"s":"J","d":482,"v":-6.68},{"s":"J","d":502,"v":-6.75},{"s":"J","d":530,"v":-6.88},{"s":"J","d":561,"v":-7.0},{"s":"J","d":608,"v":-7.2},{"s":"J","d":625,"v":-7.26},{"s":"J","d":642,"v":-7.33},{"s":"J","d":694,"v":-7.49},{"s":"J","d":709,"v":-7.51},{"s":"J","d":742,"v":-7.45},{"s":"J","d":777,"v":-7.42},{"s":"J","d":813,"v":-6.91},{"s":"J","d":826,"v":-6.78},{"s":"J","d":855,"v":-6.72},{"s":"J","d":882,"v":-6.72},{"s":"J","d":903,"v":-6.84},{"s":"J","d":916,"v":-6.92},{"s":"J","d":952,"v":-7.05},{"s":"J","d":987,"v":-6.91},{"s":"J","d":1007,"v":-7.25},{"s":"J","d":1043,"v":-7.39},{"s":"J","d":1071,"v":-7.52}
],
"rings":[
{"g":"e1","i":0,"d":159,"v":-4.99},{"g":"e1","i":1,"d":167,"v":-4.69},{"g":"e1","i":2,"d":186,"v":-4.5},{"g":"e1","i":3,"d":215,"v":-4.47},{"g":"e1","i":4,"d":247,"v":-4.59},{"g":"e1","i":5,"d":280,"v":-4.83},{"g":"e1","i":6,"d":309,"v":-5.15},{"g":"e1","i":7,"d":324,"v":-5.48},{"g":"e1","i":8,"d":321,"v":-5.76},{"g":"e1","i":9,"d":301,"v":-5.93},{"g":"e1","i":10,"d":268,"v":-5.98},{"g":"e1","i":11,"d":231,"v":-5.85},{"g":"e1","i":12,"d":194,"v":-5.53},{"g":"e1","i":13,"d":169,"v":-5.25},
{"g":"e2","i":0,"d":529,"v":-4.05},{"g":"e2","i":1,"d":543,"v":-3.78},{"g":"e2","i":2,"d":568,"v":-3.63},{"g":"e2","i":3,"d":601,"v":-3.69},{"g":"e2","i":4,"d":634,"v":-3.99},{"g":"e2","i":5,"d":658,"v":-4.31},{"g":"e2","i":6,"d":667,"v":-4.59},{"g":"e2","i":7,"d":654,"v":-4.83},{"g":"e2","i":8,"d":617,"v":-4.92},{"g":"e2","i":9,"d":584,"v":-4.78},{"g":"e2","i":10,"d":552,"v":-4.5},{"g":"e2","i":11,"d":535,"v":-4.27}
],
"arrows":[
{"g":"a1","i":0,"d":895,"v":-5.36},{"g":"a1","i":1,"d":664,"v":-4.67},{"g":"b1","i":0,"d":679,"v":-4.62},{"g":"b1","i":1,"d":664,"v":-4.67},{"g":"b1","i":2,"d":673,"v":-4.81},
{"g":"a2","i":0,"d":895,"v":-5.5},{"g":"a2","i":1,"d":317,"v":-5.76},{"g":"b2","i":0,"d":330,"v":-5.67},{"g":"b2","i":1,"d":317,"v":-5.76},{"g":"b2","i":2,"d":330,"v":-5.85}
]
},
"layer":[
{"data":{"values":[{"d":-60,"d2":1250,"v":0.7,"v2":-8.2}]},"mark":{"type":"rect","clip":false,"color":{"gradient":"linear","x1":0,"y1":0,"x2":0,"y2":1,"stops":[{"offset":0,"color":"#4e8b3a"},{"offset":0.5,"color":"#a4bc78"},{"offset":1,"color":"#dbe7cb"}]}},"encoding":{"x":{"field":"d","type":"quantitative","scale":{"domain":[0,1240.4],"nice":false,"zero":false},"axis":{"orient":"top","values":[0,200,400,600,800,1000,1200],"labelExpr":"timeFormat(datetime(2004,11,29+datum.value),'%d/%m/%y')","title":null,"grid":false,"domainColor":"#6e6e6e","domainWidth":2,"tickColor":"#6e6e6e","tickWidth":2,"tickSize":-8,"labelFont":"Liberation Serif","labelFontSize":27,"labelColor":"#000000","labelPadding":35,"labelFlush":false,"labelOverlap":false,"labelBound":false,"zindex":1}},"x2":{"field":"d2"},"y":{"field":"v","type":"quantitative","scale":{"domain":[-8,0],"nice":false,"zero":false},"axis":{"values":[0,-1,-2,-3,-4,-5,-6,-7,-8],"labelExpr":"toString(datum.value)","title":null,"grid":false,"domainColor":"#6e6e6e","domainWidth":2,"tickColor":"#6e6e6e","tickWidth":2,"tickSize":8,"labelFont":"Liberation Serif","labelFontSize":27,"labelColor":"#000000","labelPadding":14,"labelOverlap":false,"labelBound":false,"zindex":1}},"y2":{"field":"v2"}}},
{"data":{"values":[{"t":"D","d":14,"v":-8.96},{"t":"A","d":98,"v":-8.96}]},"mark":{"type":"text","font":"Liberation Sans","fontWeight":"bold","fontSize":225,"color":"#417b7d","align":"center","baseline":"alphabetic","clip":false},"encoding":{"x":{"field":"d","type":"quantitative"},"y":{"field":"v","type":"quantitative"},"text":{"field":"t"}}},
{"data":{"name":"lines"},"transform":[{"filter":"datum.b>0"}],"mark":{"type":"line","interpolate":"monotone","strokeWidth":5,"strokeCap":"round","strokeJoin":"round","clip":false},"encoding":{"x":{"field":"d","type":"quantitative"},"y":{"field":"v","type":"quantitative"},"detail":{"field":"b"},"color":{"field":"s","legend":null,"scale":{"domain":["A","B","C","D","H","I","K"],"range":["#0e73ab","#064f9e","#78862a","#0b8a63","#5f9a45","#0a55a0","#0575a8"]}}}},
{"data":{"name":"lines"},"transform":[{"filter":"datum.b>0"}],"mark":{"type":"line","interpolate":"monotone","strokeWidth":8,"strokeDash":[1.5,1.5],"clip":false},"encoding":{"x":{"field":"d","type":"quantitative"},"y":{"field":"v","type":"quantitative"},"detail":{"field":"b"},"color":{"field":"s","legend":null,"scale":{"domain":["A","B","C","D","H","I","K"],"range":["#0e73ab","#064f9e","#78862a","#0b8a63","#5f9a45","#0a55a0","#0575a8"]}}}},
{"data":{"name":"lines"},"transform":[{"filter":"datum.s=='K'"}],"mark":{"type":"point","shape":"M-1,-1L1,1M-1,1L1,-1","strokeWidth":2,"size":25,"clip":false},"encoding":{"x":{"field":"d","type":"quantitative"},"y":{"field":"v","type":"quantitative"},"color":{"value":"#0575a8"}}},
{"data":{"name":"pts"},"mark":{"type":"point","shape":"M-1,-1L1,1M-1,1L1,-1","strokeWidth":2,"size":25,"opacity":1,"clip":false},"encoding":{"x":{"field":"d","type":"quantitative"},"y":{"field":"v","type":"quantitative"},"color":{"field":"s","legend":null,"scale":{"domain":["B","D","K","F","G","I","J"],"range":["#123f8c","#0a8060","#0575a8","#0d97a6","#7d88a8","#0a55a0","#7d88a8"]}}}},
{"data":{"name":"lines"},"transform":[{"filter":"datum.s=='E'||datum.s=='G'||datum.s=='J'"}],"mark":{"type":"line","strokeWidth":2,"strokeJoin":"round","clip":false},"encoding":{"x":{"field":"d","type":"quantitative"},"y":{"field":"v","type":"quantitative"},"color":{"field":"s","legend":null,"scale":{"domain":["E","G","J"],"range":["#5ceef0","#8ce4ee","#8cf4e0"]}}}},
{"data":{"name":"lines"},"transform":[{"filter":"datum.s!='K'&&datum.s!='E'&&datum.s!='G'&&datum.s!='J'"}],"mark":{"type":"line","interpolate":"monotone","strokeWidth":2.2,"strokeJoin":"round","clip":false},"encoding":{"x":{"field":"d","type":"quantitative"},"y":{"field":"v","type":"quantitative"},"color":{"field":"s","legend":null,"scale":{"domain":["A","B","C","D","F","H","I"],"range":["#0c9fd8","#1a66c8","#b5bf3a","#10cf9a","#55eaf0","#5fd4e8","#22c2f4"]}}}},
{"data":{"name":"rings"},"mark":{"type":"line","interpolate":"cardinal-closed","color":"#ff0000","strokeWidth":5.5},"encoding":{"x":{"field":"d","type":"quantitative"},"y":{"field":"v","type":"quantitative"},"detail":{"field":"g"},"order":{"field":"i"}}},
{"data":{"name":"arrows"},"mark":{"type":"line","color":"#ff0000","strokeWidth":4},"encoding":{"x":{"field":"d","type":"quantitative"},"y":{"field":"v","type":"quantitative"},"detail":{"field":"g"},"order":{"field":"i"}}},
{"data":{"values":[{"d":907,"d2":1250,"v":-5.12,"v2":-6.08}]},"mark":{"type":"rect","fillOpacity":0,"stroke":"#ff0000","strokeWidth":4.5,"clip":true},"encoding":{"x":{"field":"d","type":"quantitative"},"x2":{"field":"d2"},"y":{"field":"v","type":"quantitative"},"y2":{"field":"v2"}}},
{"data":{"values":[{"t":"Rabattement de nappe","d":1082,"v":-5.42},{"t":"(parcelles agricoles)","d":1082,"v":-5.82}]},"mark":{"type":"text","font":"Liberation Sans","fontSize":37,"color":"#0b9ea6","align":"center","baseline":"middle"},"encoding":{"x":{"field":"d","type":"quantitative"},"y":{"field":"v","type":"quantitative"},"text":{"field":"t"}}}
],
"resolve":{"scale":{"color":"independent"}}
}
